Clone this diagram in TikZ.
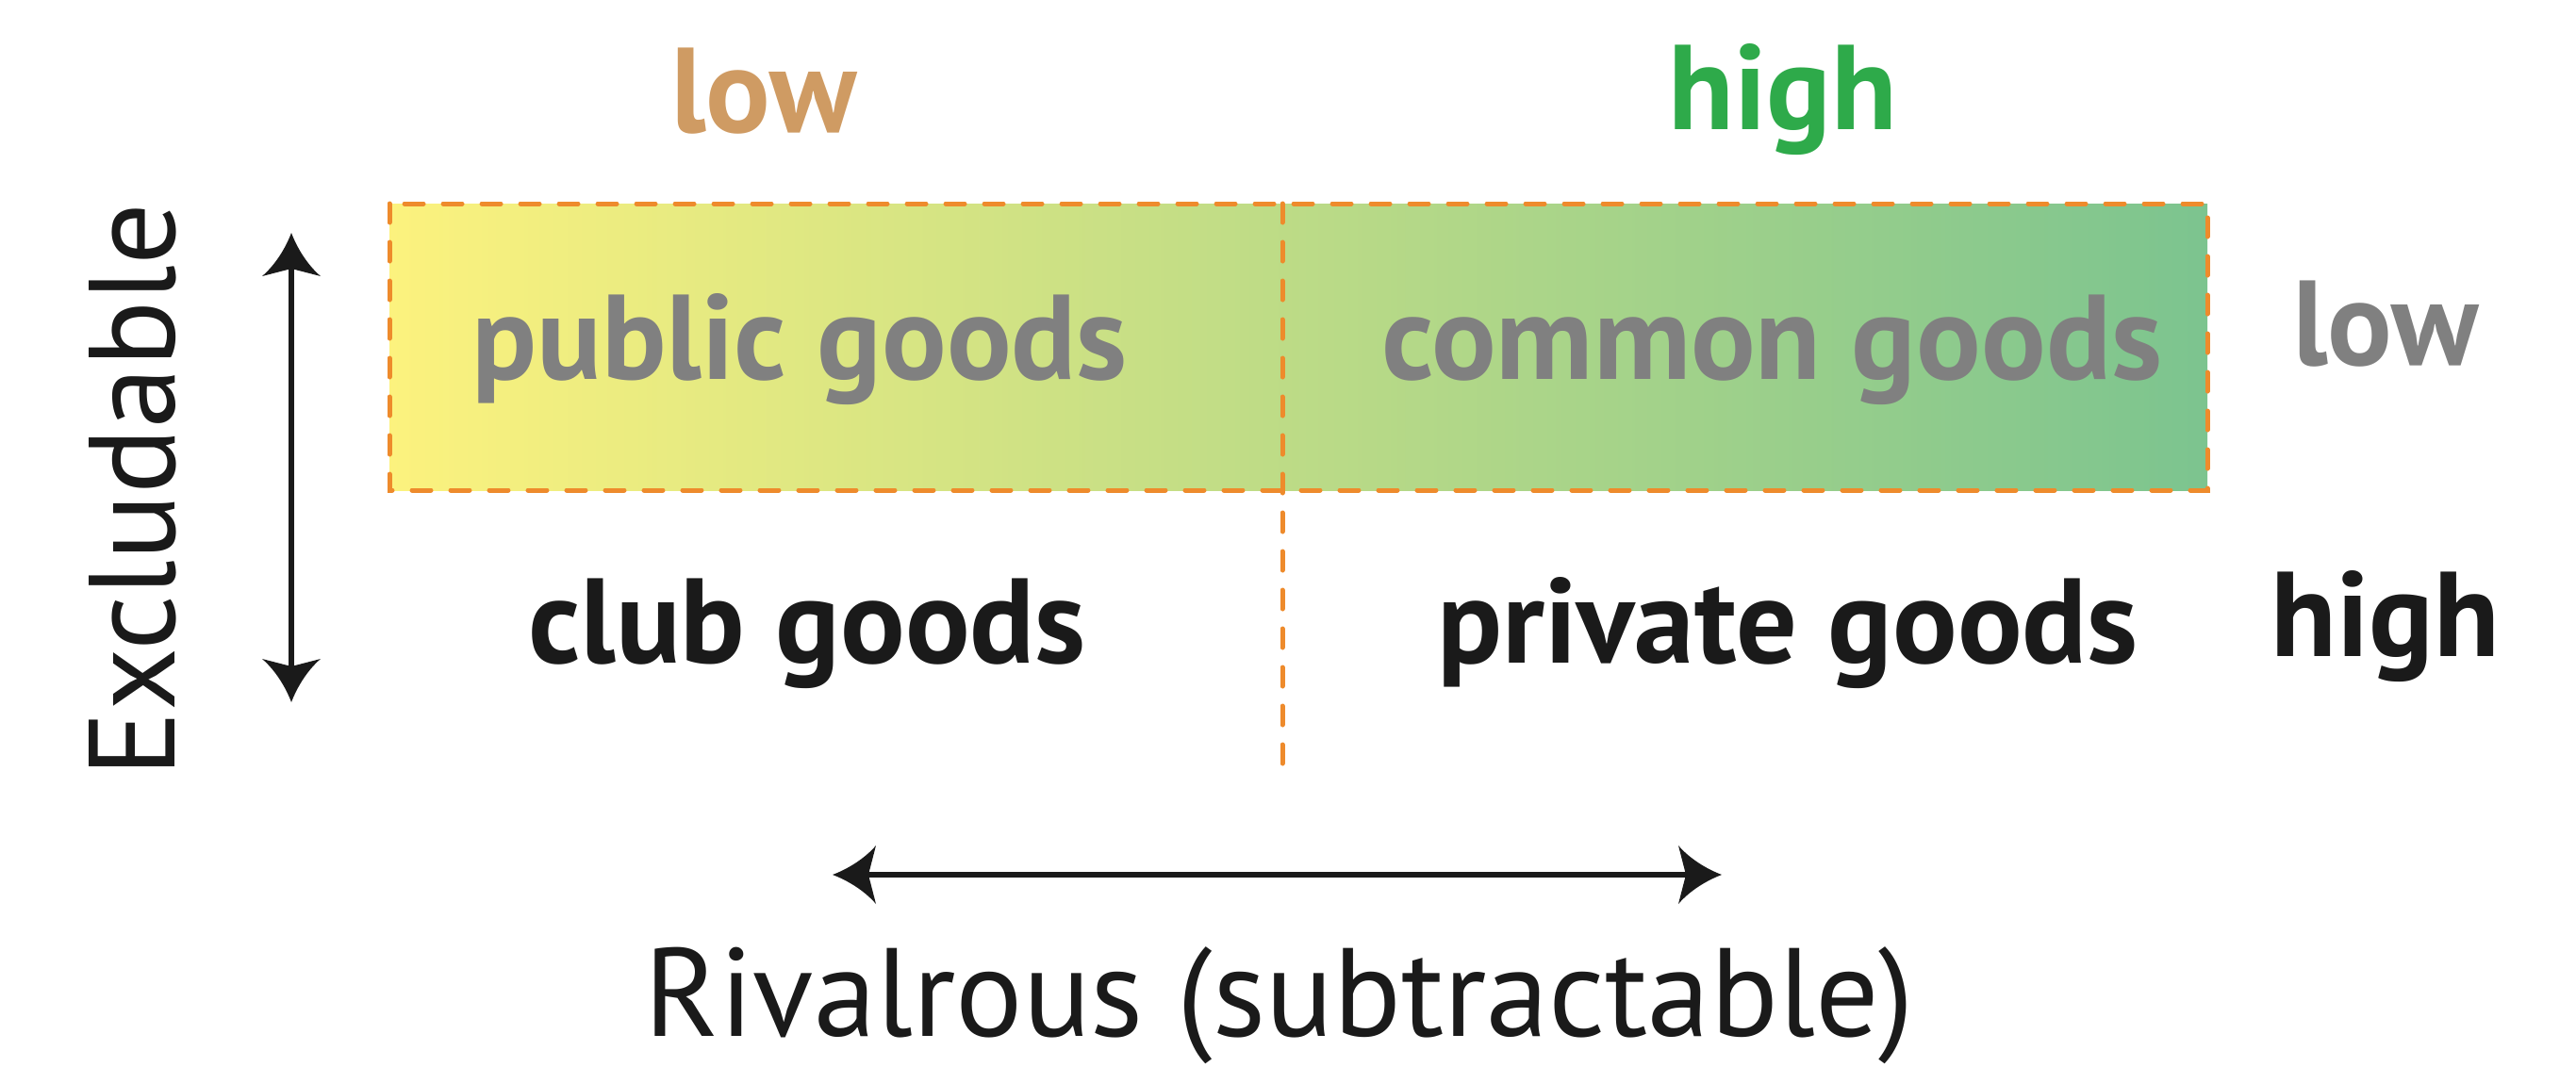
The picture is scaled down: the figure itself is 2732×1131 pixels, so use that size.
\documentclass[tikz,border=0pt]{standalone}
\usepackage{fontspec}
\setmainfont{PT Sans}
\definecolor{tanc}{HTML}{CF9B63}
\definecolor{greenc}{HTML}{2EAA4A}
\definecolor{grayc}{HTML}{808080}
\definecolor{blackc}{HTML}{1A1A1A}
\definecolor{orangec}{HTML}{EE8B2C}
\definecolor{yelc}{HTML}{FCF27E}
\definecolor{midc}{HTML}{C2D988}
\definecolor{grnc}{HTML}{7CC48F}
\tikzset{
  semib/.style={font=\bfseries\fontsize{38.4}{42}\selectfont, anchor=base, inner sep=0pt},
  regl/.style={font=\fontsize{40}{44}\selectfont, anchor=base, inner sep=0pt, text=blackc},
  orangedash/.style={draw=orangec, line width=1.5pt, line cap=round, dash pattern=on 6pt off 6.3pt},
  shaft/.style={draw=blackc, line width=2pt},
  ahead/.pic={\fill[blackc] (0,0) .. controls (-16,-6) and (-34,-17) .. (-46,-31) -- (-38,0) -- (-46,31) .. controls (-34,17) and (-16,6) .. (0,0) -- cycle;}
}
\begin{document}
\begin{tikzpicture}[x=0.3pt,y=-0.3pt]
\useasboundingbox (0,0) rectangle (2732,1131);
% gradient band
\shade[left color=yelc, middle color=midc, right color=grnc] (413,216) rectangle (2341,520);
\draw[orangedash] (413,216) rectangle (2341,520);
\coordinate (dt) at (1360,216);
\coordinate (db) at (1360,818);
\draw[orangedash] (dt) -- (db);
% column headers
\node[semib, text=tanc] (lowtop) at (810,140) {low};
\node[semib, text=greenc] (hightop) at (1891,137) {high};
% cells
\node[semib, text=grayc] (public) at (848,402) {public goods};
\node[semib, text=grayc] (common) at (1879,402) {common goods};
\node[semib, text=blackc] (club) at (856,703) {club goods};
\node[semib, text=blackc] (private) at (1896,703) {private goods};
% row labels
\node[semib, text=grayc] (lowright) at (2530,387) {low};
\node[semib, text=blackc] (highright) at (2530,696) {high};
% axis titles
\node[regl, font=\fontsize{39}{43}\selectfont, rotate=90] (excl) at (185,520) {Excludable};
\node[regl] (rival) at (1357,1099) {Rivalrous (subtractable)};
% vertical arrow
\coordinate (vt) at (309,247);
\coordinate (vb) at (309,745);
\draw[shaft, shorten <=10.8pt, shorten >=10.8pt] (vt) -- (vb);
\pic[rotate=90] at (vt) {ahead};
\pic[rotate=-90] at (vb) {ahead};
% horizontal arrow
\coordinate (hl) at (883,928);
\coordinate (hr) at (1826,928);
\draw[shaft, shorten <=10.8pt, shorten >=10.8pt] (hl) -- (hr);
\pic[rotate=180] at (hl) {ahead};
\pic at (hr) {ahead};
\end{tikzpicture}
\end{document}
